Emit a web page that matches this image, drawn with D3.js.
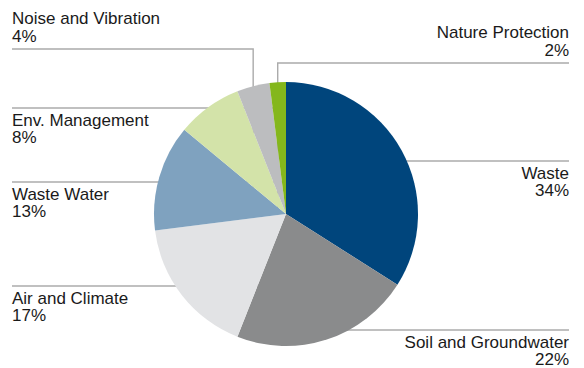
<!DOCTYPE html>
<html>
<head>
<meta charset="utf-8">
<script src="https://cdn.jsdelivr.net/npm/d3@7"></script>
<style>
  html, body { margin: 0; padding: 0; background: #fff; }
  svg { display: block; }
  text { font-family: "Liberation Sans", Arial, sans-serif; font-size: 17px; fill: #1a1a1a; }
</style>
</head>
<body>
<svg id="chart" width="584" height="368"></svg>
<script>
// Share of spending by environmental domain (percent), clockwise from 12 o'clock
const categories = ["Waste", "Soil and Groundwater", "Air and Climate", "Waste Water",
                    "Env. Management", "Noise and Vibration", "Nature Protection"];
const shares = [34, 22, 17, 13, 8, 4, 2];
const colors = ["#00457c", "#8a8b8c", "#e2e3e5", "#7fa2bf", "#d3e3a9", "#bcbdbf", "#84b71c"];

// Leader layout per slice: which side the label sits on, the y of its rule,
// whether the text sits above or below the rule, and whether the rule bends down to the slice
const labelSide  = ["right", "right", "left", "left", "left", "left", "right"];
const ruleY      = [161, 330, 286, 182, 108, 49, 63];
const textAbove  = [false, false, false, false, false, true, true];
const elbow      = [false, false, false, false, false, true, true];

const width = 584, height = 368;
const cx = 286, cy = 214, radius = 132;
const leftX = 12, rightX = 569, lineH = 17.5;

const svg = d3.select("#chart");

const pie = d3.pie().sort(null).value(d => d)(shares);
const arc = d3.arc().innerRadius(0).outerRadius(radius);

const rules = svg.append("g")
  .attr("fill", "none")
  .attr("stroke", "#ababab")
  .attr("stroke-width", 1.4);

pie.forEach((p, i) => {
  const y = ruleY[i];
  const left = labelSide[i] === "left";
  const edge = left ? leftX : rightX;
  let path;
  if (elbow[i]) {
    // bend down at the x of the slice's mid angle on its rim
    const mid = (p.startAngle + p.endAngle) / 2;
    const bx = cx + radius * Math.sin(mid);
    path = `M${edge},${y}H${bx}V${cy}`;
  } else {
    path = `M${edge},${y}H${cx}`;
  }
  rules.append("path").attr("d", path);
});

// Pie drawn over the rules so each rule stops at the rim
svg.append("g")
  .attr("transform", `translate(${cx},${cy})`)
  .selectAll("path")
  .data(pie)
  .join("path")
  .attr("d", arc)
  .attr("fill", (d, i) => colors[i]);

// Labels: name on the first line, percentage below
const labels = svg.append("g");
pie.forEach((p, i) => {
  const left = labelSide[i] === "left";
  const x = left ? leftX : rightX;
  const base = textAbove[i] ? ruleY[i] - 7.5 - lineH : ruleY[i] + 17.5;
  const t = labels.append("text")
    .attr("x", x)
    .attr("y", base)
    .attr("text-anchor", left ? "start" : "end");
  t.append("tspan").attr("x", x).text(categories[i]);
  t.append("tspan").attr("x", x).attr("dy", lineH).text(shares[i] + "%");
});
</script>
</body>
</html>
